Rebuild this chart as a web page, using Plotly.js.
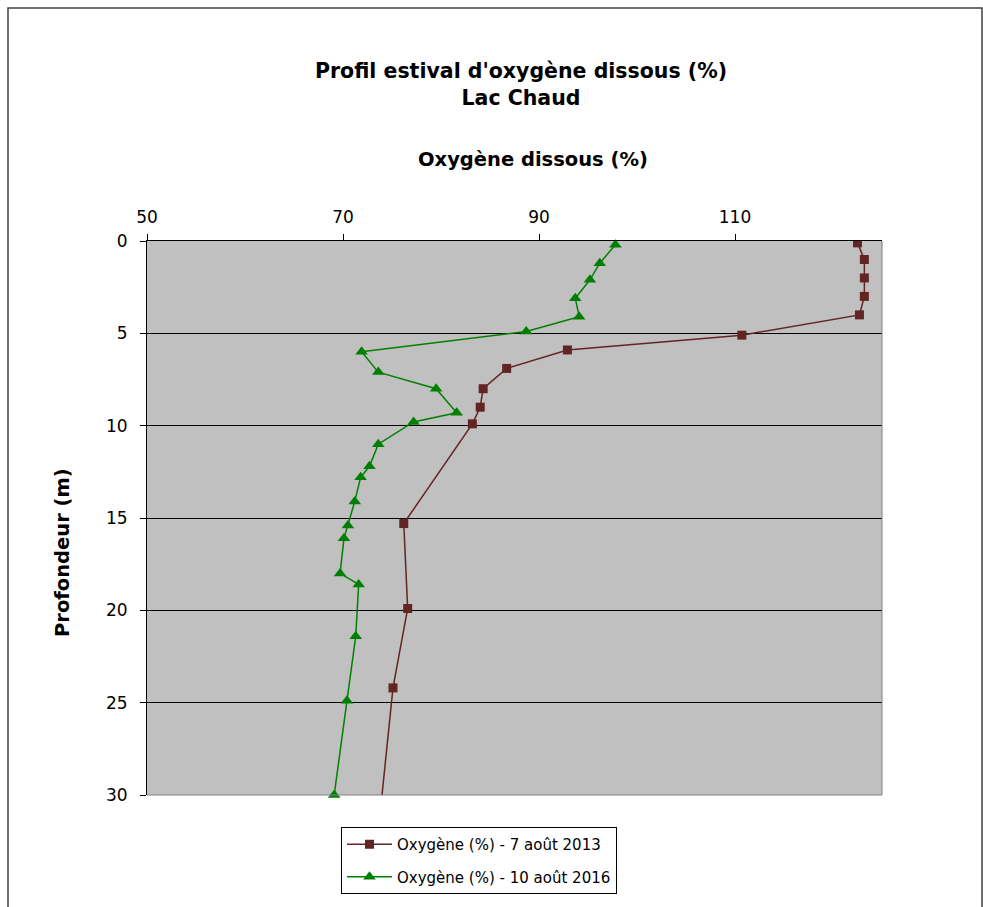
<!DOCTYPE html>
<html>
<head>
<meta charset="utf-8">
<script src="https://cdn.plot.ly/plotly-3.0.1.min.js"></script>
<style>html,body{margin:0;padding:0;background:#fff;}#chart{width:983px;height:907px;}</style>
</head>
<body>
<div id="chart"></div>
<script>
// Data
const depth2013 = [0.1, 1.0, 2.0, 3.0, 4.0, 5.1, 5.9, 6.9, 8.0, 9.0, 9.9, 15.3, 19.9, 24.2, 32.5];
const oxy2013   = [122.5, 123.2, 123.2, 123.2, 122.7, 110.7, 92.9, 86.7, 84.3, 84.0, 83.2, 76.2, 76.6, 75.1, 73.5];
const depth2016 = [0.2, 1.2, 2.1, 3.1, 4.1, 4.9, 6.0, 7.1, 8.0, 9.3, 9.8, 11.0, 12.2, 12.8, 14.1, 15.4, 16.1, 18.0, 18.6, 21.4, 24.9, 30.0];
const oxy2016   = [97.8, 96.2, 95.2, 93.7, 94.1, 88.7, 71.9, 73.6, 79.5, 81.6, 77.2, 73.6, 72.7, 71.8, 71.2, 70.5, 70.1, 69.7, 71.6, 71.3, 70.4, 69.1];
const name2013 = "Oxygène (%) - 7 août 2013";
const name2016 = "Oxygène (%) - 10 août 2016";
const xTicks = [50, 70, 90, 110];
const yTicks = [0, 5, 10, 15, 20, 25, 30];
const chartTitle = "Profil estival d'oxygène dissous (%)<br>Lac Chaud";
const xTitle = "Oxygène dissous (%)";
const yTitle = "Profondeur (m)";

const FONT = "DejaVu Sans, Century Gothic, sans-serif";

const traces = [
  {
    x: oxy2013, y: depth2013, name: name2013, type: "scatter", mode: "lines+markers",
    legendgroup: "a",
    line: {color: "#632523", width: 1.5},
    marker: {symbol: "square", size: 9, color: "#632523"},
    cliponaxis: true
  },
  {
    x: oxy2016, y: depth2016, name: name2016, type: "scatter", mode: "lines+markers",
    legendgroup: "b",
    line: {color: "#008000", width: 1.5},
    marker: {symbol: "triangle-up", size: 11, color: "#008000"},
    cliponaxis: false
  }
];

const L = 147, R = 882, T = 241, B = 795;
const px = v => (v - L) / (R - L);
const py = v => (B - v) / (B - T);

const layout = {
  width: 983, height: 907,
  margin: {l: L, r: 983 - R, t: T, b: 907 - B, pad: 0},
  paper_bgcolor: "#ffffff",
  plot_bgcolor: "#c0c0c0",
  font: {family: FONT, color: "#000", size: 16},
  showlegend: true,
  title: {
    text: "<b>" + chartTitle + "</b>",
    font: {family: FONT, size: 20.5, color: "#000"},
    xref: "paper", x: px(521), xanchor: "center",
    yref: "container", y: 1 - 78 / 907, yanchor: "middle"
  },
  xaxis: {
    side: "top", range: [50, 125], tickvals: xTicks, ticktext: xTicks.map(String),
    showgrid: false, zeroline: false,
    showline: true, linecolor: "#000", linewidth: 1,
    ticks: "outside", ticklen: 6, tickcolor: "#000", tickwidth: 1,
    ticklabelstandoff: 4,
    tickfont: {family: FONT, size: 17, color: "#000"},
    fixedrange: true
  },
  yaxis: {
    range: [30, 0], tickvals: yTicks, ticktext: yTicks.map(String),
    showgrid: true, gridcolor: "#000", gridwidth: 1, zeroline: false,
    showline: true, linecolor: "#000", linewidth: 1,
    ticks: "outside", ticklen: 6, tickcolor: "#000", tickwidth: 1,
    ticklabelstandoff: 9,
    tickfont: {family: FONT, size: 17, color: "#000"},
    fixedrange: true
  },
  annotations: [
    {
      text: "<b>" + xTitle + "</b>", xref: "paper", yref: "paper",
      x: px(533), y: py(160), xanchor: "center", yanchor: "middle",
      showarrow: false, font: {family: FONT, size: 19.5, color: "#000"}
    },
    {
      text: "<b>" + yTitle + "</b>", xref: "paper", yref: "paper",
      x: px(62), y: py(553), xanchor: "center", yanchor: "middle",
      textangle: -90, showarrow: false, font: {family: FONT, size: 19.5, color: "#000"}
    }
  ],
  legend: {
    x: px(341), y: py(827), xanchor: "left", yanchor: "top",
    bgcolor: "#ffffff", bordercolor: "#000", borderwidth: 1,
    font: {family: FONT, size: 15, color: "#000"},
    itemwidth: 45,
    traceorder: "grouped", tracegroupgap: 10
  },
  shapes: [
    {type: "line", xref: "paper", yref: "paper", x0: 1, x1: 1, y0: 0, y1: 1,
     line: {color: "#808080", width: 1}},
    {type: "line", xref: "paper", yref: "paper", x0: 0, x1: 1, y0: 0, y1: 0,
     line: {color: "#808080", width: 1}},
    {type: "rect", xref: "paper", yref: "paper",
     x0: px(8), x1: px(982), y0: py(8), y1: py(925),
     line: {color: "#404040", width: 1.5}, fillcolor: "rgba(0,0,0,0)", layer: "below"}
  ]
};

Plotly.newPlot("chart", traces, layout, {displayModeBar: false, staticPlot: true});
</script>
</body>
</html>
